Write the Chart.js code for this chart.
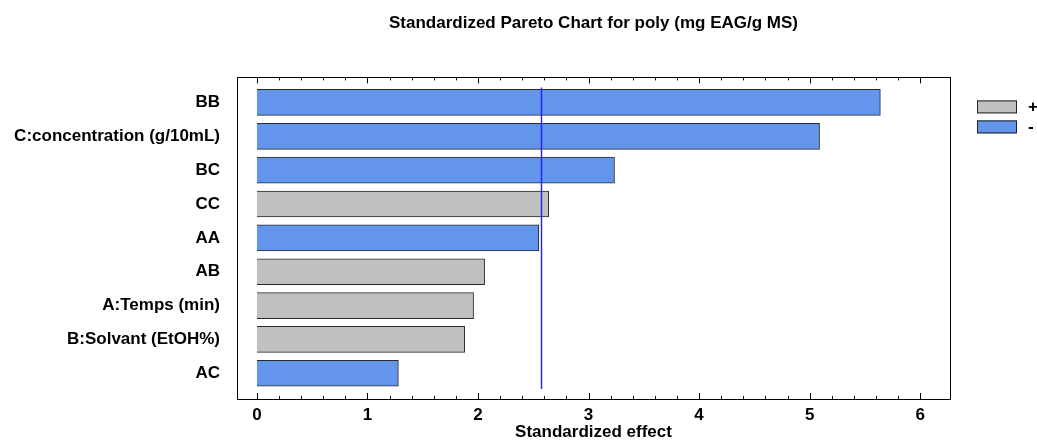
<!DOCTYPE html>
<html>
<head>
<meta charset="utf-8">
<script src="https://cdn.jsdelivr.net/npm/chart.js@4.4.1/dist/chart.umd.min.js"></script>
<style>
  html, body { margin: 0; padding: 0; background: #fff; }
  #wrap { width: 1037px; height: 444px; }
</style>
</head>
<body>
<div id="wrap"><canvas id="pareto"></canvas></div>
<script>
// effects, sorted as in the chart (top to bottom)
let effects = ['BB', 'C:concentration (g/10mL)', 'BC', 'CC', 'AA', 'AB', 'A:Temps (min)', 'B:Solvant (EtOH%)', 'AC'];
let values = [5.64, 5.09, 3.235, 2.64, 2.55, 2.06, 1.96, 1.88, 1.28];
let signs = ['-', '-', '-', '+', '-', '+', '+', '+', '-'];
let xTicks = [0, 1, 2, 3, 4, 5, 6];
let critical = 2.57;

let gray = '#c0c0c0';
let blue = '#6495ed';
let font = 'Liberation Sans, Arial, sans-serif';

function pointsFor(sign) {
  let out = [];
  for (let i = 0; i < effects.length; i++) {
    if (signs[i] == sign) out.push({x: values[i], y: i});
  }
  return out;
}

// box, inner ticks, reference line and legend
let decor = {
  id: 'decor',
  afterDatasetsDraw(chart) {
    let ctx = chart.ctx;
    let a = chart.chartArea;
    let xs = chart.scales.x;
    ctx.save();
    // reference line
    ctx.strokeStyle = '#1f1fff';
    ctx.lineWidth = 1.4;
    let px = Math.round(xs.getPixelForValue(critical)) + 0.5;
    ctx.beginPath();
    ctx.moveTo(px, a.top + 10);
    ctx.lineTo(px, a.bottom - 10);
    ctx.stroke();
    // frame
    ctx.lineWidth = 1;
    ctx.strokeStyle = '#000';
    ctx.strokeRect(Math.round(a.left) + 0.5, Math.round(a.top) + 0.5,
      Math.round(a.right - a.left), Math.round(a.bottom - a.top));
    // ticks every 0.2, major on integers, top and bottom
    ctx.beginPath();
    for (let k = 0; k <= 30; k++) {
      let v = k / 5;
      let x = Math.round(xs.getPixelForValue(v)) + 0.5;
      let len = (k % 5 == 0) ? 6 : 3;
      ctx.moveTo(x, a.bottom);
      ctx.lineTo(x, a.bottom - len);
      ctx.moveTo(x, a.top);
      ctx.lineTo(x, a.top + len);
    }
    ctx.stroke();
    // legend
    let items = chart.data.datasets;
    ctx.font = 'bold 17px ' + font;
    ctx.textBaseline = 'middle';
    for (let i = 0; i < items.length; i++) {
      let y = a.top + 23 + i * 20;
      ctx.fillStyle = items[i].backgroundColor;
      ctx.fillRect(977, y, 40, 13);
      ctx.strokeStyle = '#222';
      ctx.strokeRect(977.5, y + 0.5, 39, 12);
      ctx.fillStyle = '#000';
      ctx.fillText(items[i].label, 1028, y + 7);
    }
    ctx.restore();
  }
};

new Chart(document.getElementById('pareto'), {
  type: 'bar',
  data: {
    datasets: [
      { label: '+', data: pointsFor('+'), backgroundColor: gray, borderColor: '#2a2a2a', borderWidth: 1 },
      { label: '-', data: pointsFor('-'), backgroundColor: blue, borderColor: '#2a2a2a', borderWidth: 1 }
    ]
  },
  options: {
    indexAxis: 'y',
    responsive: true,
    maintainAspectRatio: false,
    animation: false,
    layout: { padding: { left: 0, right: 87, top: 0, bottom: 0 } },
    datasets: { bar: { grouped: false, barThickness: 26 } },
    scales: {
      x: {
        type: 'linear',
        min: -0.18,
        max: 6.27,
        afterBuildTicks: (s) => { s.ticks = xTicks.map(v => ({value: v})); },
        afterFit: (s) => { s.height = 45; },
        grid: { display: false, drawTicks: false },
        border: { display: false },
        ticks: { color: '#000', font: { family: font, size: 17, weight: 'bold' }, padding: 6 },
        title: { display: true, text: 'Standardized effect', color: '#000',
          font: { family: font, size: 17, weight: 'bold' }, padding: { top: 0, bottom: 1 } }
      },
      y: {
        type: 'linear',
        offset: false,
        reverse: true,
        min: -0.74,
        max: 8.76,
        afterBuildTicks: (s) => { s.ticks = effects.map((e, i) => ({value: i})); },
        afterFit: (s) => { s.width = 237; },
        grid: { display: false, drawTicks: false, offset: false },
        border: { display: false },
        ticks: { color: '#000', font: { family: font, size: 17, weight: 'bold' }, padding: 17,
          callback: (v) => effects[v] }
      }
    },
    plugins: {
      legend: { display: false },
      tooltip: { enabled: false },
      title: {
        display: true,
        fullSize: false,
        text: 'Standardized Pareto Chart for poly (mg EAG/g MS)',
        color: '#000',
        font: { family: font, size: 17, weight: 'bold' },
        padding: { top: 13, bottom: 44 }
      }
    }
  },
  plugins: [decor]
});
</script>
</body>
</html>
